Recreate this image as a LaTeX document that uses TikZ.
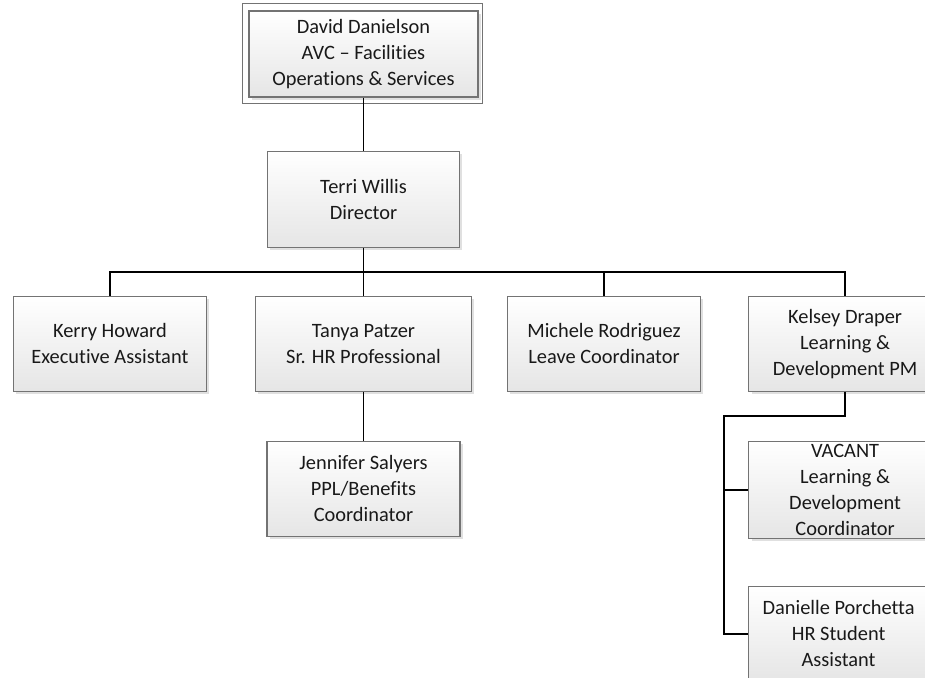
\documentclass[tikz,border=0pt]{standalone}
\usepackage{fontspec}
\setmainfont{Carlito}[Ligatures={NoCommon,NoRare}]
\usepackage{tikz}
\usetikzlibrary{positioning,shadows,calc}

\begin{document}
\begin{tikzpicture}[
staffbox/.style={rectangle, draw=gray!90!black, line width=0.8pt, top color=white, bottom color=black!10,
  align=center, minimum width=144.75pt, minimum height=71.25pt, inner sep=2pt,
  font=\fontsize{15.3}{19.5}\selectfont, text=black!90,
  drop shadow={shadow xshift=2.2pt, shadow yshift=-2.2pt, fill=black, opacity=0.12}},
headbox/.style={staffbox, minimum width=171.75pt, minimum height=64.5pt, drop shadow={opacity=0}},
orgline/.style={draw=black, line width=1.45pt}
]
\useasboundingbox (0,0) rectangle (693.75pt,-508.5pt);
\clip (0,0) rectangle (693.75pt,-508.5pt);
% Head and director
%Nodes
\node[headbox]                (dd)     at (272.6pt,-40.5pt) {David Danielson\\AVC -- Facilities\\Operations \& Services};
\node[staffbox, minimum width=144pt, minimum height=72pt] (terri) [below=39.75pt of dd] {Terri Willis\\Director};
\draw[gray!90!black, line width=0.8pt] ([shift={(-4.5pt,5pt)}]dd.north west) rectangle ([shift={(3pt,-4.5pt)}]dd.south east);
% Staff row
%Nodes
\node[staffbox, minimum width=162pt] (tanya)   [below=36pt of terri]    {Tanya Patzer\\Sr. HR Professional};
\node[staffbox]               (kerry)   [left=36pt of tanya]     {Kerry Howard\\Executive Assistant};
\node[staffbox]               (michele) [right=26.25pt of tanya] {Michele Rodriguez\\Leave Coordinator};
\node[staffbox]               (kelsey)  [right=35.25pt of michele] {Kelsey Draper\\Learning \&\\Development PM};
\node[staffbox]               (jennifer) [below=36.75pt of tanya] {Jennifer Salyers\\PPL/Benefits\\Coordinator};
\node[staffbox, minimum height=72.75pt] (vacant) [below=36.75pt of kelsey] {VACANT\\Learning \&\\Development\\Coordinator};
\node[staffbox, minimum width=135pt] (danielle) [below=35.25pt of vacant.south west, anchor=north west] {Danielle Porchetta\\HR Student\\Assistant};
\coordinate (bus)  at ($(terri.south)!0.5!(tanya.north)$);
\coordinate (rail) at ([xshift=-18pt]vacant.west);
%Lines
\draw[orgline] (dd.south) -- (terri.north);
\draw[orgline] (terri.south) -- (tanya.north);
\draw[orgline] (kerry.north) |- (bus) -| (kelsey.north);
\draw[orgline] (michele.north) -- (michele.north |- bus);
\draw[orgline] (tanya.south) -- (jennifer.north);
\draw[orgline] (kelsey.south) -- ++(0,-18pt) -| (rail |- danielle.west) -- (danielle.west);
\draw[orgline] (rail) -- (vacant.west);
\end{tikzpicture}
\end{document}
